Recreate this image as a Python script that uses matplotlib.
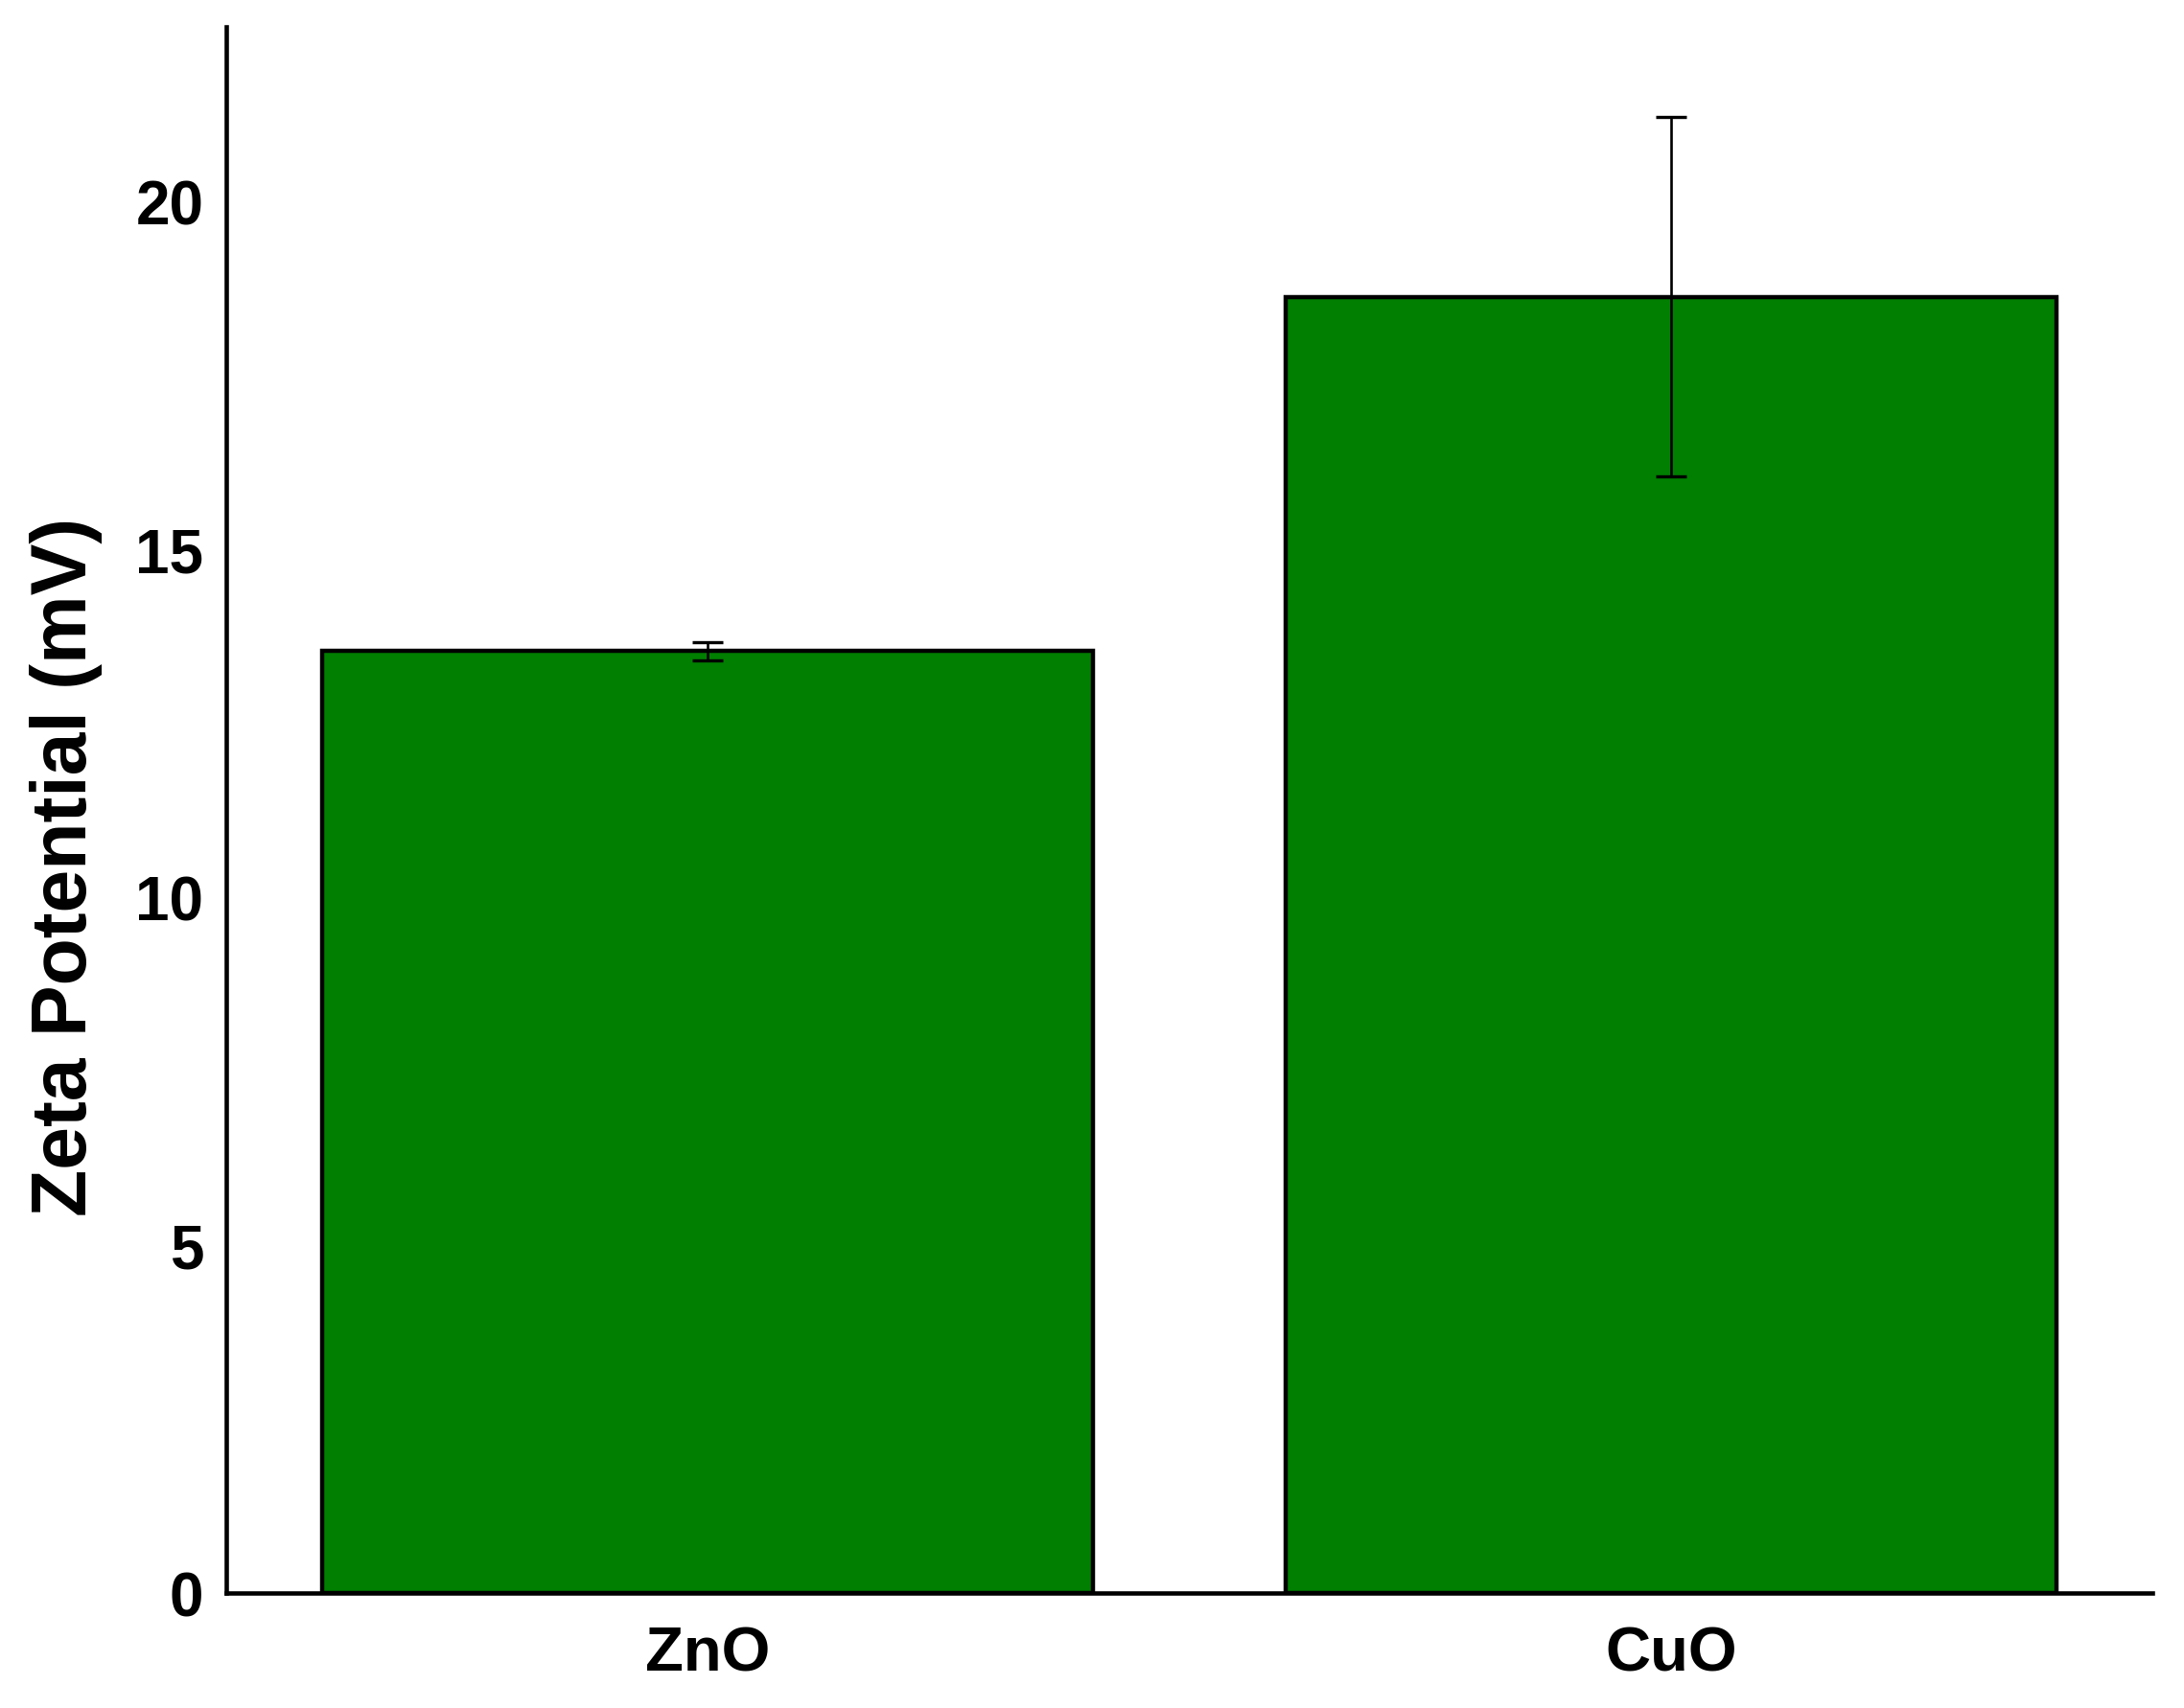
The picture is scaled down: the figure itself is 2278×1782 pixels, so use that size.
import matplotlib
matplotlib.use("Agg")
import matplotlib.pyplot as plt

categories = ["ZnO", "CuO"]
values = [13.53, 18.62]
errors = [0.13, 2.58]
yticks = [0, 5, 10, 15, 20]

plt.rcParams['font.family'] = ['Liberation Sans', 'DejaVu Sans']
plt.rcParams['font.weight'] = 'bold'

fig = plt.figure(figsize=(22.78, 17.83), dpi=100)
ax = fig.add_axes([0.1036, 0.0673, 0.8819, 0.9164])

x = list(range(len(categories)))
ax.bar(x, values, width=0.8, color='#007f00', edgecolor='black', linewidth=3.2, zorder=2)
ax.errorbar(x, values, yerr=errors, fmt='none', ecolor='black', elinewidth=1.9,
            capsize=11.5, capthick=2.4, zorder=3)

ax.set_xlim(-0.5, 1.5)
ax.set_ylim(0, 22.5)
ax.set_xticks(x)
ax.set_xticklabels(categories, fontsize=47, fontweight='bold')
ax.set_yticks(yticks)
ax.set_yticklabels([str(v) for v in yticks], fontsize=46, fontweight='bold')
ax.tick_params(axis='x', length=0, pad=24)
ax.tick_params(axis='y', length=0, pad=17)

for s in ['top', 'right']:
    ax.spines[s].set_visible(False)
for s in ['left', 'bottom']:
    ax.spines[s].set_linewidth(3.3)

ax.set_ylabel("Zeta Potential (mV)", fontsize=58, fontweight='bold')
ax.yaxis.set_label_coords(-0.064, 0.4645)

fig.savefig("out.png", dpi=100)
